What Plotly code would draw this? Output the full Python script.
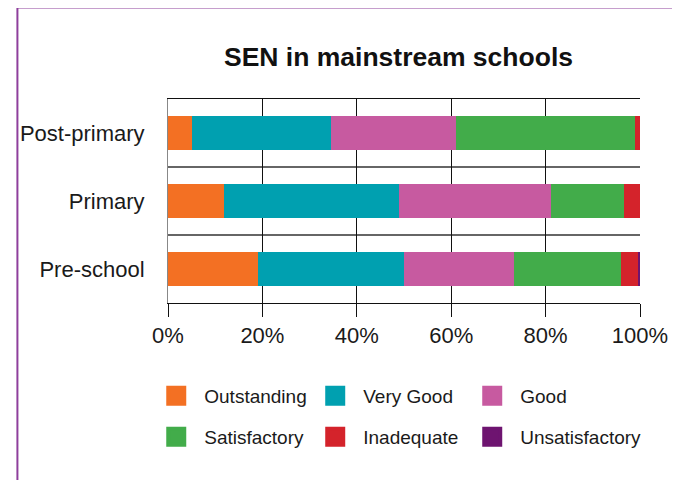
import plotly.graph_objects as go

categories = ["Pre-school", "Primary", "Post-primary"]
series_names = ["Outstanding", "Very Good", "Good", "Satisfactory", "Inadequate", "Unsatisfactory"]
outstanding = [19.1, 11.9, 5.1]
very_good = [30.8, 37.1, 29.4]
good = [23.3, 32.1, 26.6]
satisfactory = [22.8, 15.5, 37.9]
inadequate = [3.6, 3.4, 1.0]
unsatisfactory = [0.4, 0.0, 0.0]
series_values = [outstanding, very_good, good, satisfactory, inadequate, unsatisfactory]
colors = ["#F37023", "#00A0B0", "#C75AA0", "#42AC4A", "#D4232B", "#6E1470"]
x_tick_vals = [0, 20, 40, 60, 80, 100]
x_tick_text = ["0%", "20%", "40%", "60%", "80%", "100%"]

# page offset (browser body margin); figure sized to fit the 680x480 window
OFF = 8
W, H = 680 - OFF, 480 - OFF
ML = 163 - OFF
MT = 99 - OFF
MR = W - (641 - OFF)
MB = H - (303 - OFF)
PW, PH = W - ML - MR, H - MT - MB

def px_x(p):
    return (p - OFF - ML) / PW

def px_y(p):
    return (H - MB - (p - OFF)) / PH

fig = go.Figure()
ypos = list(range(len(categories)))
for name, vals, col in zip(series_names, series_values, colors):
    fig.add_trace(go.Bar(
        y=ypos, x=vals, name=name, orientation="h",
        marker=dict(color=col, line=dict(width=0)),
        width=0.51, showlegend=False,
    ))

# legend swatch positions (page pixels): column marker centres and row centres
col_x = [170, 331, 490]
row_y = [396, 437]
legend_layouts = {}
for i, (name, col) in enumerate(zip(series_names, colors)):
    key = "legend" if i == 0 else f"legend{i + 1}"
    fig.add_trace(go.Scatter(
        x=[None], y=[None], mode="markers", name=name,
        marker=dict(symbol="square", size=16, color=col, line=dict(color=col, width=4)),
        legend=key,
    ))
    legend_layouts[key] = dict(
        x=px_x(col_x[i % 3] - 27), y=px_y(row_y[i // 3]),
        xanchor="left", yanchor="middle", itemwidth=46,
        font=dict(family="Liberation Sans, Arial, sans-serif", size=19, color="#1a1a1a"),
        bgcolor="rgba(0,0,0,0)",
    )

fig.update_layout(
    width=W, height=H,
    margin=dict(l=ML, r=MR, t=MT, b=MB),
    paper_bgcolor="white", plot_bgcolor="white",
    barmode="stack", bargap=0.49,
    font=dict(family="Liberation Sans, Arial, sans-serif", color="#1a1a1a"),
    title=dict(text="<b>SEN in mainstream schools</b>", x=(398.5 - OFF) / W, xref="container",
               xanchor="center", y=1 - (57 - OFF) / H, yref="container", yanchor="middle",
               font=dict(size=26.5, color="#111")),
    xaxis=dict(range=[0, 100], tickvals=x_tick_vals, ticktext=x_tick_text,
               showgrid=True, gridcolor="#111", gridwidth=1, zeroline=False,
               showline=True, linecolor="#111", linewidth=1, mirror=True,
               ticks="outside", ticklen=13, tickcolor="#111", tickwidth=1,
               tickfont=dict(size=22, color="#1a1a1a")),
    yaxis=dict(range=[-0.5, 2.5], tickvals=ypos, ticktext=categories,
               showgrid=False, zeroline=False, showline=True, linecolor="#888", linewidth=1,
               ticks="", ticklabelstandoff=18,
               tickfont=dict(size=22, color="#1a1a1a"),
               minor=dict(tickvals=[0.5, 1.5], showgrid=True, gridcolor="#666", gridwidth=2, ticks="")),
    shapes=[dict(type="rect", xref="paper", yref="paper",
                 x0=px_x(10.5), x1=px_x(674.5), y0=px_y(495), y1=px_y(7.5),
                 line=dict(color="#8E3F9C", width=2), fillcolor="rgba(0,0,0,0)", layer="above")],
    **legend_layouts,
)

fig.write_html("out.html")
